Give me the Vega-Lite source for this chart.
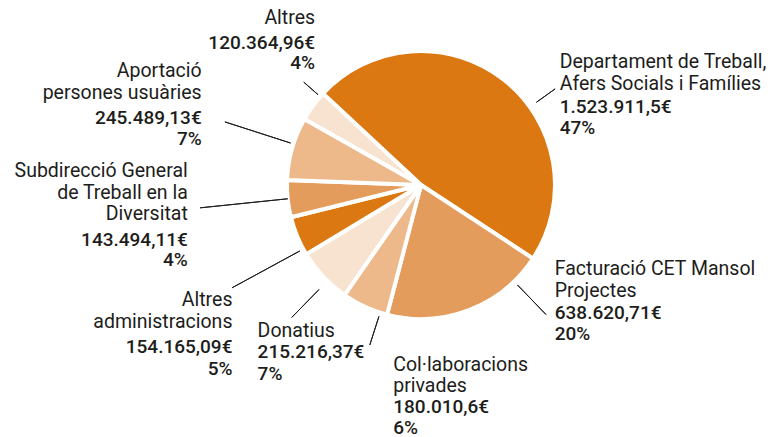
{
  "$schema": "https://vega.github.io/schema/vega-lite/v6.json",
  "width": 264,
  "height": 264,
  "autosize": {"type": "none"},
  "padding": {"left": 289, "top": 53, "right": 223, "bottom": 120},
  "background": "white",
  "config": {"view": {"stroke": null}, "text": {"font": "Roboto", "fontSize": 19.5, "color": "#1d1d1b", "lineBreak": "\n"}},
  "data": {"values": [
    {"order": 1, "key": "dep", "name": "Departament de Treball,\nAfers Socials i Famílies", "value": 1523911.5, "amount": "1.523.911,5€\n47%"},
    {"order": 2, "key": "fac", "name": "Facturació CET Mansol\nProjectes", "value": 638620.71, "amount": "638.620,71€\n20%"},
    {"order": 3, "key": "col", "name": "Col·laboracions\nprivades", "value": 180010.6, "amount": "180.010,6€\n6%"},
    {"order": 4, "key": "don", "name": "Donatius", "value": 215216.37, "amount": "215.216,37€\n7%"},
    {"order": 5, "key": "adm", "name": "Altres\nadministracions", "value": 154165.09, "amount": "154.165,09€\n5%"},
    {"order": 6, "key": "sub", "name": "Subdirecció General\nde Treball en la\nDiversitat", "value": 143494.11, "amount": "143.494,11€\n4%"},
    {"order": 7, "key": "apo", "name": "Aportació\npersones usuàries", "value": 245489.13, "amount": "245.489,13€\n7%"},
    {"order": 8, "key": "alt", "name": "Altres", "value": 120364.96, "amount": "120.364,96€\n4%"}
  ]},
  "encoding": {
    "theta": {"field": "value", "type": "quantitative", "stack": true, "scale": {"range": [-0.8203, 5.4629]}},
    "order": {"field": "order", "type": "quantitative", "sort": "ascending"},
    "detail": {"field": "key", "type": "nominal"}
  },
  "layer": [
    {"mark": {"type": "arc", "outerRadius": 134, "stroke": "white", "strokeWidth": 4},
     "encoding": {"color": {"field": "key", "type": "nominal", "legend": null,
       "scale": {"domain": ["dep","fac","col","don","adm","sub","apo","alt"],
                 "range": ["#DC7811","#E49C5D","#EDB98A","#F7E3D0","#DC7811","#E49C5D","#EDB98A","#F7E3D0"]}}}},

    {"mark": {"type": "arc", "innerRadius": 142, "outerRadius": 165, "padAngle": 3.1, "thetaOffset": 0.283, "theta2Offset": 0.283, "fill": "transparent", "stroke": "#1d1d1b", "strokeWidth": 1},
     "encoding": {"strokeOpacity": {"condition": {"test": "datum.order == 1", "value": 1}, "value": 0}}},
    {"mark": {"type": "arc", "innerRadius": 139, "outerRadius": 180, "padAngle": 3.1, "thetaOffset": -0.401, "theta2Offset": -0.401, "fill": "transparent", "stroke": "#1d1d1b", "strokeWidth": 1},
     "encoding": {"strokeOpacity": {"condition": {"test": "datum.order == 2", "value": 1}, "value": 0}}},
    {"mark": {"type": "arc", "innerRadius": 138, "outerRadius": 168, "padAngle": 3.1, "thetaOffset": -0.122, "theta2Offset": -0.122, "fill": "transparent", "stroke": "#1d1d1b", "strokeWidth": 1},
     "encoding": {"strokeOpacity": {"condition": {"test": "datum.order == 3", "value": 1}, "value": 0}}},
    {"mark": {"type": "arc", "innerRadius": 146, "outerRadius": 185, "padAngle": 3.1, "thetaOffset": -0.044, "theta2Offset": -0.044, "fill": "transparent", "stroke": "#1d1d1b", "strokeWidth": 1},
     "encoding": {"strokeOpacity": {"condition": {"test": "datum.order == 4", "value": 1}, "value": 0}}},
    {"mark": {"type": "arc", "innerRadius": 138, "outerRadius": 215, "padAngle": 3.1, "thetaOffset": -0.105, "theta2Offset": -0.105, "fill": "transparent", "stroke": "#1d1d1b", "strokeWidth": 1},
     "encoding": {"strokeOpacity": {"condition": {"test": "datum.order == 5", "value": 1}, "value": 0}}},
    {"mark": {"type": "arc", "innerRadius": 134, "outerRadius": 222, "padAngle": 3.1, "fill": "transparent", "stroke": "#1d1d1b", "strokeWidth": 1},
     "encoding": {"strokeOpacity": {"condition": {"test": "datum.order == 6", "value": 1}, "value": 0}}},
    {"mark": {"type": "arc", "innerRadius": 137, "outerRadius": 206, "padAngle": 3.1, "thetaOffset": 0.035, "theta2Offset": 0.035, "fill": "transparent", "stroke": "#1d1d1b", "strokeWidth": 1},
     "encoding": {"strokeOpacity": {"condition": {"test": "datum.order == 7", "value": 1}, "value": 0}}},
    {"mark": {"type": "arc", "innerRadius": 137, "outerRadius": 156, "padAngle": 3.1, "thetaOffset": 0.087, "theta2Offset": 0.087, "fill": "transparent", "stroke": "#1d1d1b", "strokeWidth": 1},
     "encoding": {"strokeOpacity": {"condition": {"test": "datum.order == 8", "value": 1}, "value": 0}}},

    {"mark": {"type": "text", "radius": 150, "align": "left", "baseline": "top", "dx": 46, "dy": -14, "lineHeight": 22},
     "encoding": {"text": {"condition": {"test": "datum.order == 1", "field": "name"}, "value": ""}}},
    {"mark": {"type": "text", "radius": 150, "align": "left", "baseline": "top", "dx": 46, "dy": 31, "lineHeight": 21, "fontSize": 19, "fontWeight": 500},
     "encoding": {"text": {"condition": {"test": "datum.order == 1", "field": "amount"}, "value": ""}}},

    {"mark": {"type": "text", "radius": 150, "align": "left", "baseline": "top", "dx": 80, "dy": -65, "lineHeight": 22},
     "encoding": {"text": {"condition": {"test": "datum.order == 2", "field": "name"}, "value": ""}}},
    {"mark": {"type": "text", "radius": 150, "align": "left", "baseline": "top", "dx": 80, "dy": -21, "lineHeight": 21, "fontSize": 19, "fontWeight": 500},
     "encoding": {"text": {"condition": {"test": "datum.order == 2", "field": "amount"}, "value": ""}}},

    {"mark": {"type": "text", "radius": 150, "align": "left", "baseline": "top", "dx": 35, "dy": 35, "lineHeight": 21},
     "encoding": {"text": {"condition": {"test": "datum.order == 3", "field": "name"}, "value": ""}}},
    {"mark": {"type": "text", "radius": 150, "align": "left", "baseline": "top", "dx": 35, "dy": 77, "lineHeight": 20.5, "fontSize": 19, "fontWeight": 500},
     "encoding": {"text": {"condition": {"test": "datum.order == 3", "field": "amount"}, "value": ""}}},

    {"mark": {"type": "text", "radius": 150, "align": "left", "baseline": "top", "dx": -54, "dy": 34, "lineHeight": 22},
     "encoding": {"text": {"condition": {"test": "datum.order == 4", "field": "name"}, "value": ""}}},
    {"mark": {"type": "text", "radius": 150, "align": "left", "baseline": "top", "dx": -54, "dy": 55, "lineHeight": 22, "fontSize": 19, "fontWeight": 500},
     "encoding": {"text": {"condition": {"test": "datum.order == 4", "field": "amount"}, "value": ""}}},

    {"mark": {"type": "text", "radius": 150, "align": "right", "baseline": "top", "dx": -50, "dy": 49, "lineHeight": 22},
     "encoding": {"text": {"condition": {"test": "datum.order == 5", "field": "name"}, "value": ""}}},
    {"mark": {"type": "text", "radius": 150, "align": "right", "baseline": "top", "dx": -50, "dy": 96, "lineHeight": 22, "fontSize": 19, "fontWeight": 500},
     "encoding": {"text": {"condition": {"test": "datum.order == 5", "field": "amount"}, "value": ""}}},

    {"mark": {"type": "text", "radius": 150, "align": "right", "baseline": "top", "dx": -84, "dy": -38, "lineHeight": 21.5},
     "encoding": {"text": {"condition": {"test": "datum.order == 6", "field": "name"}, "value": ""}}},
    {"mark": {"type": "text", "radius": 150, "align": "right", "baseline": "top", "dx": -84, "dy": 31, "lineHeight": 20, "fontSize": 19, "fontWeight": 500},
     "encoding": {"text": {"condition": {"test": "datum.order == 6", "field": "amount"}, "value": ""}}},

    {"mark": {"type": "text", "radius": 150, "align": "right", "baseline": "top", "dx": -75, "dy": -82, "lineHeight": 22},
     "encoding": {"text": {"condition": {"test": "datum.order == 7", "field": "name"}, "value": ""}}},
    {"mark": {"type": "text", "radius": 150, "align": "right", "baseline": "top", "dx": -75, "dy": -35, "lineHeight": 21, "fontSize": 19, "fontWeight": 500},
     "encoding": {"text": {"condition": {"test": "datum.order == 7", "field": "amount"}, "value": ""}}},

    {"mark": {"type": "text", "radius": 150, "align": "right", "baseline": "top", "dx": 15, "dy": -87, "lineHeight": 22},
     "encoding": {"text": {"condition": {"test": "datum.order == 8", "field": "name"}, "value": ""}}},
    {"mark": {"type": "text", "radius": 150, "align": "right", "baseline": "top", "dx": 15, "dy": -62, "lineHeight": 20, "fontSize": 19, "fontWeight": 500},
     "encoding": {"text": {"condition": {"test": "datum.order == 8", "field": "amount"}, "value": ""}}}
  ]
}
